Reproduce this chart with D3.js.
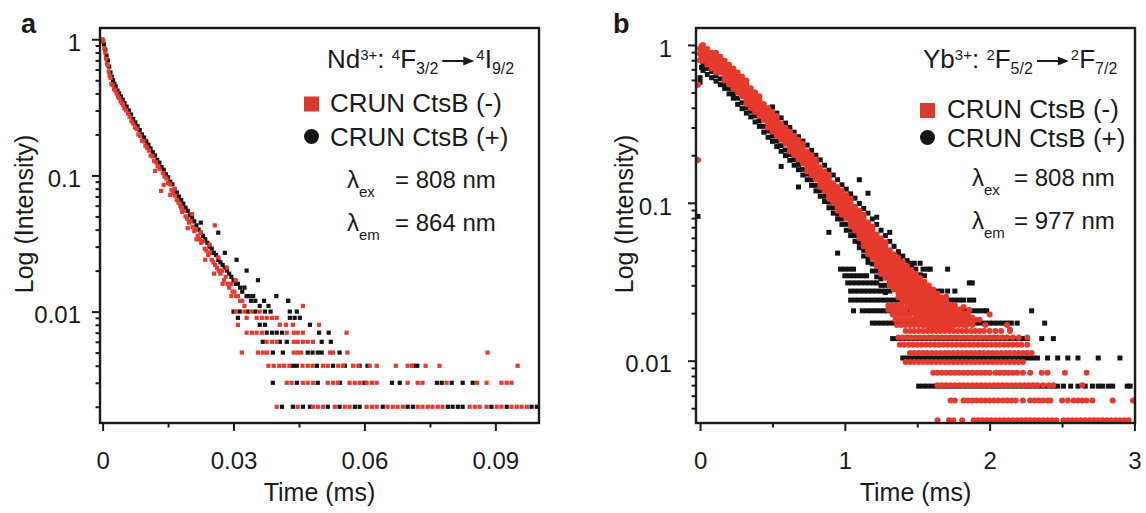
<!DOCTYPE html>
<html>
<head>
<meta charset="utf-8">
<script src="https://cdn.jsdelivr.net/npm/d3@7"></script>
<style>
  body { margin: 0; background: #fff; }
  text { font-family: "Liberation Sans", Arial, sans-serif; fill: #1a1a1a; }
</style>
</head>
<body>
<div id="fig"></div>
<script>
// ---------- panel a : Nd3+ decay, [time ms, intensity] ----------
const ndMinus = [
  [0.0000,1.00],[0.0002,0.97],[0.0004,0.86],[0.0006,0.80],[0.0008,0.72],[0.0010,0.66],[0.0012,0.64],
  [0.0014,0.58],[0.0016,0.54],[0.0018,0.52],[0.0020,0.47],[0.0023,0.46],[0.0026,0.43],[0.0029,0.42],
  [0.0032,0.40],[0.0035,0.38],[0.0038,0.37],[0.0041,0.35],[0.0044,0.34],[0.0047,0.33],[0.0050,0.31],
  [0.0054,0.30],[0.0058,0.285],[0.0062,0.27],[0.0066,0.25],[0.0070,0.24],[0.0074,0.225],[0.0078,0.22],
  [0.0082,0.20],[0.0086,0.195],[0.0090,0.18],[0.0094,0.178],[0.0098,0.165],[0.0102,0.16],[0.0106,0.152],
  [0.0110,0.14],[0.0114,0.138],[0.0118,0.128],[0.0122,0.125],[0.0126,0.117],[0.0130,0.112],[0.0134,0.077],
  [0.0138,0.104],[0.0142,0.098],[0.0146,0.095],[0.0150,0.088],[0.0154,0.086],[0.0158,0.078],[0.0162,0.074],
  [0.0166,0.071],[0.0170,0.066],[0.0174,0.063],[0.0178,0.060],[0.0182,0.054],[0.0186,0.055],[0.0190,0.050],
  [0.0194,0.048],[0.0198,0.045],[0.0202,0.046],[0.0206,0.042],[0.0210,0.039],[0.0214,0.040],[0.0218,0.036],
  [0.0222,0.034],[0.0226,0.032],[0.0230,0.033],[0.0234,0.029],[0.0238,0.028],[0.0242,0.026],[0.0246,0.027],
  [0.0250,0.024],[0.0254,0.023],[0.0258,0.022],[0.0262,0.021],[0.0266,0.020],[0.0270,0.019],[0.0274,0.020],
  [0.0278,0.017],[0.0282,0.018],[0.0286,0.016],[0.0290,0.015],[0.0294,0.016],[0.0298,0.014],[0.0302,0.014],
  [0.0306,0.013],[0.0310,0.013],[0.0315,0.012],[0.0320,0.012],[0.0325,0.011],
  [0.0120,0.108],[0.0140,0.085],[0.0155,0.072],[0.0165,0.080],[0.0180,0.058],[0.0195,0.041],[0.0205,0.052],
  [0.0215,0.034],[0.0225,0.038],[0.0235,0.024],[0.0245,0.031],[0.0255,0.019],[0.0257,0.043],[0.0265,0.025],
  [0.0275,0.016],[0.0285,0.021],[0.0295,0.013],[0.0305,0.017],[0.0459,0.011]
];
const ndPlus = [
  [0.0000,0.97],[0.0003,0.92],[0.0006,0.84],[0.0009,0.76],[0.0012,0.70],[0.0015,0.63],[0.0018,0.57],
  [0.0021,0.53],[0.0024,0.50],[0.0027,0.47],[0.0030,0.45],[0.0034,0.42],[0.0038,0.40],[0.0042,0.38],
  [0.0046,0.36],[0.0050,0.34],[0.0055,0.32],[0.0060,0.30],[0.0065,0.28],[0.0070,0.26],[0.0075,0.245],
  [0.0080,0.23],[0.0085,0.215],[0.0090,0.20],[0.0095,0.19],[0.0100,0.178],[0.0105,0.168],[0.0110,0.158],
  [0.0115,0.148],[0.0120,0.140],[0.0125,0.130],[0.0130,0.124],[0.0135,0.115],[0.0140,0.110],[0.0145,0.102],
  [0.0150,0.097],[0.0155,0.090],[0.0160,0.086],[0.0165,0.079],[0.0170,0.075],[0.0175,0.070],[0.0180,0.066],
  [0.0185,0.062],[0.0190,0.058],[0.0195,0.055],[0.0200,0.051],[0.0205,0.049],[0.0210,0.046],[0.0215,0.043],
  [0.0220,0.040],[0.0225,0.038],[0.0230,0.036],[0.0235,0.034],[0.0240,0.032],[0.0245,0.030],[0.0250,0.029],
  [0.0255,0.027],[0.0260,0.026],[0.0265,0.024],[0.0270,0.023],[0.0275,0.022],[0.0280,0.021],[0.0285,0.020],
  [0.0290,0.019],[0.0295,0.018],[0.0300,0.017],[0.0305,0.016],[0.0310,0.016],[0.0315,0.015],[0.0320,0.014],
  [0.0325,0.015],[0.0330,0.013],[0.0335,0.013],[0.0340,0.012],[0.0345,0.013],[0.0350,0.012],[0.0360,0.011],
  [0.0370,0.012],[0.0380,0.011],
  [0.0225,0.045],[0.0265,0.038],[0.0280,0.027],[0.0307,0.024],[0.0330,0.020],[0.0356,0.017],[0.0398,0.013],
  [0.0425,0.012]
];
// quantised tail: [intensity level, times]
const ndMinusTail = [
  [0.002,[0.0399,0.0447,0.0482,0.0493,0.0505,0.0532,0.0555,0.0566,0.0605,0.0617,0.0628,0.0653,0.0665,0.0676,
          0.0688,0.0722,0.0733,0.0745,0.0756,0.0768,0.0779,0.0841,0.0853,0.0864,0.0880,0.0903,0.0914,0.0937,
          0.0949,0.0960,0.0972]],
  [0.003,[0.0422,0.0433,0.0459,0.0470,0.0482,0.0516,0.0528,0.0539,0.0566,0.0578,0.0589,0.0605,0.0617,0.0628,
          0.0699,0.0722,0.0733,0.0788,0.0858,0.0880,0.0914,0.0926,0.0937]],
  [0.004,[0.0380,0.0392,0.0405,0.0416,0.0428,0.0458,0.0470,0.0481,0.0505,0.0516,0.0540,0.0551,0.0574,0.0586,
          0.0612,0.0628,0.0672,0.0699,0.0709,0.0740,0.0772,0.0951]],
  [0.005,[0.0319,0.0356,0.0367,0.0377,0.0438,0.0447,0.0455,0.0521,0.0528,0.0561,0.0882]],
  [0.006,[0.0376,0.0388,0.0399,0.0438,0.0447,0.0459,0.0470,0.0482]],
  [0.007,[0.0330,0.0342,0.0353,0.0365,0.0422,0.0438,0.0447,0.0459,0.0559]],
  [0.008,[0.0310,0.0406,0.0420,0.0436,0.0496]],
  [0.009,[0.0330,0.0353,0.0365,0.0376,0.0388,0.0399]],
  [0.010,[0.0305,0.0325,0.0340,0.0360]]
];
const ndPlusTail = [
  [0.002,[0.0411,0.0436,0.0459,0.0475,0.0516,0.0543,0.0578,0.0589,0.0642,0.0699,0.0711,0.0791,0.0802,0.0814,
          0.0825,0.0891,0.0926,0.0983,0.0995]],
  [0.003,[0.0390,0.0445,0.0493,0.0544,0.0600,0.0663,0.0681,0.0766,0.0777,0.0800,0.0825,0.0848]],
  [0.004,[0.0436,0.0445,0.0491,0.0528,0.0555,0.0589,0.0607,0.0712,0.0721]],
  [0.005,[0.0390,0.0413,0.0470,0.0481,0.0493,0.0502,0.0543]],
  [0.006,[0.0367,0.0406,0.0422,0.0502,0.0523]],
  [0.007,[0.0376,0.0388,0.0399,0.0411,0.0496,0.0518]],
  [0.008,[0.0360,0.0372,0.0475]],
  [0.009,[0.0310,0.0429,0.0440,0.0452]],
  [0.010,[0.0300,0.0314,0.0333,0.0350,0.0372,0.0385,0.0429,0.0445]],
  [0.012,[0.0425]]
];

// ---------- panel b : Yb3+ decay ----------
// band: [time, intensities read at that time]
const ybMinusBand = [
  [-0.014,0.56,0.187],[0.00,0.80,0.88,0.95],[0.01,0.985,0.92,0.84],
  [0.02,1.00,0.944,0.891,0.841,0.794],
  [0.05,0.944,0.891,0.841,0.794,0.750],
  [0.08,0.891,0.841,0.794,0.750,0.708],
  [0.11,0.891,0.841,0.794,0.750,0.708,0.668],
  [0.14,0.841,0.794,0.750,0.708,0.668],
  [0.17,0.794,0.750,0.708,0.668,0.631,0.596],
  [0.20,0.750,0.708,0.668,0.631,0.596,0.562],
  [0.23,0.708,0.668,0.631,0.596,0.562,0.531],
  [0.26,0.668,0.631,0.596,0.562,0.531,0.501],
  [0.29,0.631,0.596,0.562,0.531,0.501,0.473],
  [0.32,0.596,0.562,0.531,0.501,0.473,0.447,0.422],
  [0.35,0.531,0.501,0.473,0.447,0.422,0.398],
  [0.38,0.501,0.473,0.447,0.422,0.398,0.376],
  [0.41,0.473,0.447,0.422,0.398,0.376,0.355],
  [0.44,0.422,0.398,0.376,0.355,0.335],
  [0.47,0.398,0.376,0.355,0.335,0.316,0.299],
  [0.50,0.376,0.355,0.335,0.316,0.299,0.282],
  [0.53,0.355,0.335,0.316,0.299,0.282,0.266],
  [0.56,0.316,0.299,0.282,0.266,0.251],
  [0.59,0.299,0.282,0.266,0.251,0.237],
  [0.62,0.282,0.266,0.251,0.237,0.224,0.211],
  [0.65,0.266,0.251,0.237,0.224,0.211,0.200],
  [0.68,0.251,0.237,0.224,0.211,0.200,0.188],
  [0.71,0.237,0.224,0.211,0.200,0.188,0.178],
  [0.74,0.211,0.200,0.188,0.178,0.168,0.158],
  [0.77,0.200,0.188,0.178,0.168,0.158,0.150],
  [0.80,0.188,0.178,0.168,0.158,0.150,0.141],
  [0.83,0.168,0.158,0.150,0.141,0.133,0.126],
  [0.86,0.158,0.150,0.141,0.133,0.126,0.119],
  [0.89,0.150,0.141,0.133,0.126,0.119,0.112,0.106],
  [0.92,0.133,0.126,0.119,0.112,0.106,0.100],
  [0.95,0.126,0.119,0.112,0.106,0.100,0.0944,0.0891],
  [0.98,0.119,0.112,0.106,0.100,0.0944,0.0891,0.0841],
  [1.01,0.112,0.106,0.100,0.0944,0.0891,0.0841,0.0794],
  [1.04,0.106,0.100,0.0944,0.0891,0.0841,0.0794,0.0750,0.0708],
  [1.07,0.0944,0.0891,0.0841,0.0794,0.0750,0.0708,0.0668],
  [1.10,0.0891,0.0841,0.0794,0.0750,0.0708,0.0668,0.0631,0.0596],
  [1.13,0.0841,0.0794,0.0750,0.0708,0.0668,0.0631,0.0596,0.0562,0.0531],
  [1.16,0.0750,0.0708,0.0668,0.0631,0.0596,0.0562,0.0531,0.0501,0.0473],
  [1.19,0.0708,0.0668,0.0631,0.0596,0.0562,0.0531,0.0501,0.0473,0.0447],
  [1.22,0.0631,0.0596,0.0562,0.0531,0.0501,0.0473,0.0447,0.0422,0.0398],
  [1.25,0.0596,0.0562,0.0531,0.0501,0.0473,0.0447,0.0422,0.0398,0.0376,0.0355],
  [1.28,0.0562,0.0531,0.0501,0.0473,0.0447,0.0422,0.0398,0.0376,0.0355,0.0335],
  [1.31,0.0501,0.0473,0.0447,0.0422,0.0398,0.0376,0.0355,0.0335,0.0316,0.0299],
  [1.34,0.0473,0.0447,0.0422,0.0398,0.0376,0.0355,0.0335,0.0316,0.0299,0.0282],
  [1.37,0.0447,0.0422,0.0398,0.0376,0.0355,0.0335,0.0316,0.0299,0.0282,0.0266,0.0251],
  [1.40,0.0422,0.0398,0.0376,0.0355,0.0335,0.0316,0.0299,0.0282,0.0266,0.0251,0.0237],
  [1.43,0.0398,0.0376,0.0355,0.0335,0.0316,0.0299,0.0282,0.0266,0.0251,0.0237,0.0224],
  [1.46,0.0376,0.0355,0.0335,0.0316,0.0299,0.0282,0.0266,0.0251,0.0237,0.0224,0.0211,0.0200],
  [1.49,0.0355,0.0335,0.0316,0.0299,0.0282,0.0266,0.0251,0.0237,0.0224,0.0211,0.0200,0.0188],
  [1.52,0.0335,0.0316,0.0299,0.0282,0.0266,0.0251,0.0237,0.0224,0.0211,0.0200,0.0188,0.0178],
  [1.55,0.0316,0.0299,0.0282,0.0266,0.0251,0.0237,0.0224,0.0211,0.0200,0.0188,0.0178,0.0168],
  [1.58,0.0299,0.0282,0.0266,0.0251,0.0237,0.0224,0.0211,0.0200,0.0188,0.0178,0.0168,0.0158],
  [1.61,0.0282,0.0266,0.0251,0.0237,0.0224,0.0211,0.0200,0.0188,0.0178,0.0168,0.0158],
  [1.64,0.0266,0.0251,0.0237,0.0224,0.0211,0.0200,0.0188,0.0178,0.0168,0.0158],
  [1.67,0.0251,0.0237,0.0224,0.0211,0.0200,0.0188,0.0178,0.0168,0.0158],
  [1.70,0.0254,0.0237,0.0224,0.0211,0.0200,0.0188,0.0178,0.0168,0.0158],
  [1.73,0.0224,0.0211,0.0200,0.0188,0.0178,0.0168,0.0158],
  [1.76,0.0224,0.0211,0.0200,0.0188,0.0178,0.0168],
  [1.79,0.0211,0.0200,0.0188,0.0178,0.0168],
  [1.82,0.0219,0.0200,0.0188,0.0178,0.0168],
  [1.85,0.0200,0.0188,0.0178],
  [1.88,0.0188,0.0178],
  [1.93,0.0182],[2.14,0.0157]
];
const ybPlusBand = [
  [-0.014,0.082],[0.00,0.62,0.58],[0.01,0.72],[0.02,0.74,0.69],[0.05,0.71,0.65],[0.08,0.68,0.62],[0.11,0.64,0.59],
  [0.14,0.61,0.56],[0.17,0.57,0.53],[0.20,0.53,0.49],[0.23,0.49,0.46],[0.26,0.46,0.42],[0.29,0.43,0.395],
  [0.32,0.40,0.37],[0.35,0.38,0.35],[0.38,0.355,0.325],[0.41,0.33,0.305],[0.44,0.305,0.28],[0.47,0.285,0.26],
  [0.50,0.405,0.265,0.245],[0.53,0.37,0.246,0.227],[0.56,0.345,0.23,0.212,0.17],[0.59,0.32,0.216,0.199],
  [0.62,0.30,0.202,0.186],[0.65,0.28,0.188,0.173],[0.68,0.262,0.175,0.162,0.126],[0.71,0.246,0.163,0.150],
  [0.74,0.232,0.152,0.140],[0.77,0.215,0.140,0.129],[0.80,0.20,0.129,0.119],[0.83,0.187,0.119,0.110],
  [0.86,0.173,0.110,0.102],[0.89,0.161,0.101,0.093,0.065],[0.92,0.150,0.093,0.086],[0.95,0.140,0.085,0.079,0.048],
  [0.98,0.130,0.079,0.073],[1.01,0.122,0.073,0.067],[1.04,0.114,0.067,0.062],[1.07,0.107,0.062,0.057],
  [1.10,0.140,0.099,0.056,0.052],[1.13,0.092,0.050,0.046],[1.16,0.115,0.086,0.045,0.042],[1.19,0.079,0.041,0.037],
  [1.22,0.081,0.073,0.037,0.034],[1.25,0.067,0.033,0.030],[1.28,0.062,0.030,0.027],[1.31,0.065,0.057],
  [1.34,0.053],[1.37,0.049],[1.38,0.0456,0.0449],[1.40,0.046],[1.43,0.043],[1.45,0.0414],[1.46,0.040],
  [1.48,0.0414],[1.49,0.038],[1.52,0.035,0.0414]
];
// quantised tail rows: [intensity level, times]
const ybMinusRows = [
  [0.0042,[1.64,1.72,1.75,1.81,1.89,1.92,1.95,1.98,2.01,2.04,2.07,2.10,2.13,2.16,2.19,2.22,2.25,2.28,2.31,2.34,
           2.37,2.40,2.43,2.46,2.51,2.54,2.57,2.60,2.63,2.66,2.69,2.72,2.75,2.78,2.81,2.84,2.87,2.90,2.93,2.96]],
  [0.0056,[1.73,1.76,1.82,1.85,1.88,1.91,1.94,1.97,2.00,2.03,2.06,2.09,2.12,2.15,2.18,2.23,2.28,2.31,2.34,2.37,
           2.40,2.42,2.50,2.54,2.58,2.61,2.64,2.67,2.71,2.85,2.99]],
  [0.0070,[1.64,1.67,1.70,1.73,1.76,1.79,1.82,1.85,1.88,1.91,1.94,1.97,2.00,2.03,2.06,2.09,2.12,2.15,2.18,2.21,
           2.24,2.27,2.30,2.33,2.37,2.41,2.44,2.64]],
  [0.0084,[1.61,1.64,1.67,1.70,1.73,1.76,1.79,1.82,1.85,1.88,1.91,1.94,1.97,2.00,2.04,2.07,2.10,2.13,2.16,2.19,
           2.23,2.28,2.36,2.40,2.52,2.67]],
  [0.0098,[1.42,1.45,1.48,1.51,1.54,1.57,1.60,1.63,1.66,1.69,1.72,1.75,1.78,1.81,1.84,1.87,1.90,1.93,1.96,1.99,
           2.02,2.05,2.08,2.11,2.14,2.17,2.20,2.23]],
  [0.0112,[1.45,1.48,1.51,1.54,1.57,1.60,1.63,1.66,1.69,1.72,1.75,1.78,1.81,1.84,1.87,1.90,1.93,1.96,1.99,2.02,
           2.05,2.08,2.11,2.14,2.17,2.20,2.23,2.26,2.29]],
  [0.0126,[1.38,1.41,1.44,1.47,1.50,1.53,1.56,1.59,1.62,1.65,1.68,1.71,1.74,1.77,1.80,1.83,1.86,1.89,1.92,1.95,
           1.98,2.01,2.04,2.07,2.10,2.13,2.16,2.19,2.22,2.26]],
  [0.0140,[1.37,1.40,1.43,1.46,1.49,1.52,1.55,1.58,1.61,1.64,1.67,1.70,1.73,1.76,1.79,1.82,1.85,1.88,1.91,1.94,
           1.97,2.00,2.03,2.06,2.09,2.12,2.16,2.20,2.26]],
  [0.0154,[1.42,1.45,1.48,1.51,1.54,1.57,1.60,1.63,1.66,1.69,1.72,1.75,1.78,1.81,1.84,1.87,1.90,1.93,1.96,2.00,
           2.04,2.08,2.14]],
  [0.0168,[1.36,1.39,1.42,1.45,1.48,1.51,1.54,1.84,1.88,1.97,2.12]],
  [0.0182,[1.35,1.38,1.41,1.44,1.47,1.50,1.90]],
  [0.0196,[1.33,1.36,1.39,1.42,1.45,1.80,2.00]],
  [0.0210,[1.30,1.33,1.36,1.39,1.42,1.86]],
  [0.0224,[1.30,1.33,1.36,1.39]]
];
const ybPlusRows = [
  [0.0069,[1.51,1.54,1.57,1.60,1.63,1.66,1.69,1.72,1.75,1.78,1.81,1.84,1.87,1.90,1.93,1.96,1.99,2.02,2.05,2.08,
           2.11,2.14,2.17,2.20,2.23,2.26,2.29,2.32,2.35,2.38,2.41,2.44,2.47,2.51,2.56,2.61,2.66,2.71,2.75,2.78,
           2.82,2.85,2.95,2.97]],
  [0.0104,[1.40,1.43,1.46,1.49,1.52,1.55,1.58,1.61,1.64,1.67,1.70,1.73,1.76,1.79,1.82,1.85,1.88,1.91,1.94,1.97,
           2.00,2.03,2.06,2.09,2.12,2.15,2.18,2.21,2.24,2.27,2.30,2.33,2.40,2.47,2.54,2.61,2.75,2.90]],
  [0.0138,[1.33,1.36,1.39,1.42,1.45,1.48,1.51,1.54,1.57,1.60,1.63,1.66,1.69,1.72,1.75,1.78,1.81,1.84,1.87,1.90,
           1.93,1.96,1.99,2.02,2.05,2.08,2.11,2.14,2.17,2.20,2.23,2.26,2.36,2.44]],
  [0.0173,[1.19,1.22,1.25,1.28,1.31,1.34,1.37,1.40,1.43,1.46,1.49,1.52,1.55,1.58,1.61,1.64,1.67,1.70,1.73,1.76,
           1.79,1.82,1.85,1.88,1.91,1.94,1.97,2.00,2.03,2.06,2.09,2.12,2.15,2.19,2.38]],
  [0.0207,[1.06,1.12,1.15,1.18,1.21,1.24,1.27,1.30,1.33,1.36,1.39,1.42,1.45,1.48,1.51,1.54,1.57,1.60,1.63,1.66,
           1.69,1.72,1.75,1.78,1.81,1.84,1.87,1.90,1.93,1.96,1.98,2.29]],
  [0.0242,[1.04,1.07,1.10,1.13,1.16,1.19,1.22,1.25,1.28,1.31,1.34,1.37,1.40,1.43,1.46,1.49,1.52,1.55,1.58,1.61,
           1.64,1.67,1.70,1.73,1.76,1.79,1.82,1.86,1.89]],
  [0.0276,[1.04,1.07,1.10,1.13,1.16,1.19,1.22,1.25,1.28,1.31,1.61,1.64,1.67,1.71,1.76]],
  [0.0311,[1.02,1.05,1.08,1.11,1.14,1.17,1.20,1.22,1.86,1.88]],
  [0.0345,[1.00,1.03,1.06,1.09,1.12,1.15,1.45,1.55]],
  [0.0380,[0.97,1.00,1.03,1.06,1.54,1.57,1.59,1.71]]
];

// ---------- axes ----------
const ndXTicks = [0, 0.03, 0.06, 0.09];
const ndXLabels = ["0", "0.03", "0.06", "0.09"];
const ndXMinor = [0.015, 0.045, 0.075];
const ndYMinor = [0.002,0.003,0.004,0.005,0.006,0.007,0.008,0.009,0.02,0.03,0.04,0.05,0.06,0.07,0.08,0.09,
                  0.2,0.3,0.4,0.5,0.6,0.7,0.8,0.9];
const ybXTicks = [0, 1, 2, 3];
const ybXLabels = ["0", "1", "2", "3"];
const ybXMinor = [0.5, 1.5, 2.5];
const ybYMinor = [0.005,0.006,0.007,0.008,0.009,0.02,0.03,0.04,0.05,0.06,0.07,0.08,0.09,
                  0.2,0.3,0.4,0.5,0.6,0.7,0.8,0.9];
const yTicks = [0.01, 0.1, 1];
const yLabels = ["0.01", "0.1", "1"];

const RED = "#e63a2e", BLACK = "#141414", INK = "#1a1a1a";

const svg = d3.select("#fig").append("svg").attr("width", 1146).attr("height", 513);

function bandPoints(rows) {
  const out = [];
  rows.forEach(r => r.slice(1).forEach(v => out.push([r[0], v])));
  return out;
}
function rowPoints(rows) {
  const out = [];
  rows.forEach(([lvl, ts]) => ts.forEach(t => out.push([t, lvl])));
  return out;
}

function drawPanel(cfg) {
  const x = d3.scaleLinear().domain(cfg.xDomain).range([cfg.left, cfg.right]);
  const y = d3.scaleLog().domain(cfg.yDomain).range([cfg.bottom, cfg.top]);
  const g = svg.append("g");

  g.append("clipPath").attr("id", "clip-" + cfg.id)
    .append("rect").attr("x", cfg.left).attr("y", cfg.top)
    .attr("width", cfg.right - cfg.left).attr("height", cfg.bottom - cfg.top);
  const plot = g.append("g").attr("clip-path", "url(#clip-" + cfg.id + ")");

  cfg.series.forEach(s => {
    if (s.shape === "square") {
      plot.append("g").selectAll("rect").data(s.points).enter().append("rect")
        .attr("x", d => x(d[0]) - s.size / 2)
        .attr("y", d => y(d[1]) - s.size / 2)
        .attr("width", s.size).attr("height", s.size)
        .attr("fill", s.color);
    } else {
      plot.append("g").selectAll("circle").data(s.points).enter().append("circle")
        .attr("cx", d => x(d[0])).attr("cy", d => y(d[1]))
        .attr("r", s.size / 2).attr("fill", s.color);
    }
  });

  // axes
  const xa = g.append("g").attr("transform", `translate(0,${cfg.bottom})`).attr("color", INK)
    .call(d3.axisBottom(x).tickValues(cfg.xTicks).tickSize(8).tickPadding(21)
      .tickFormat((d, i) => cfg.xLabels[i]));
  g.append("g").attr("transform", `translate(0,${cfg.bottom})`).attr("color", INK)
    .call(d3.axisBottom(x).tickValues(cfg.xMinor).tickSize(4.5).tickFormat(""));
  const ya = g.append("g").attr("transform", `translate(${cfg.left},0)`).attr("color", INK)
    .call(d3.axisLeft(y).tickValues(yTicks).tickSize(8).tickPadding(cfg.yPad)
      .tickFormat((d, i) => yLabels[i]));
  g.append("g").attr("transform", `translate(${cfg.left},0)`).attr("color", INK)
    .call(d3.axisLeft(y).tickValues(cfg.yMinor).tickSize(4.5).tickFormat(""));
  g.selectAll(".domain").remove();
  g.selectAll(".tick line").attr("stroke-width", 2);
  xa.selectAll("text").attr("font-size", 24).attr("font-family", "Liberation Sans, Arial, sans-serif").attr("fill", INK);
  ya.selectAll("text").attr("font-size", 24).attr("font-family", "Liberation Sans, Arial, sans-serif")
    .attr("fill", INK).attr("dy", "0.47em");

  g.append("rect").attr("x", cfg.left).attr("y", cfg.top)
    .attr("width", cfg.right - cfg.left).attr("height", cfg.bottom - cfg.top)
    .attr("fill", "none").attr("stroke", INK).attr("stroke-width", 2.4);

  // titles
  g.append("text").attr("x", (cfg.left + cfg.right) / 2).attr("y", 501)
    .attr("text-anchor", "middle").attr("font-size", 25).text("Time (ms)");
  g.append("text").attr("transform", `translate(${cfg.yTitleX},214) rotate(-90)`)
    .attr("text-anchor", "middle").attr("font-size", 25).text("Log (Intensity)");
  g.append("text").attr("x", cfg.letterX).attr("y", 33).attr("font-size", 27)
    .attr("font-weight", "bold").text(cfg.letter);

  drawLegend(g, cfg.legend);
}

function levelTspans(t, parts) {
  t.append("tspan").attr("font-size", 15).attr("dy", -8).text(parts[0]);
  t.append("tspan").attr("dy", 8).text(parts[1]);
  t.append("tspan").attr("font-size", 16).attr("dy", 6).text(parts[2]);
}

function drawLegend(g, L) {
  const t1 = g.append("text").attr("x", L.x).attr("y", 68).attr("font-size", 26);
  t1.append("tspan").text(L.ion);
  t1.append("tspan").attr("font-size", 15).attr("dy", -8).text("3+");
  t1.append("tspan").attr("dy", 8).text(": ");
  levelTspans(t1, L.upper);
  const x0 = L.x + t1.node().getComputedTextLength() + 4;
  const x1 = x0 + 32;
  g.append("line").attr("x1", x0).attr("x2", x1 - 8).attr("y1", 61).attr("y2", 61)
    .attr("stroke", INK).attr("stroke-width", 2);
  g.append("path").attr("d", `M${x1},61 L${x1 - 11},56.5 L${x1 - 11},65.5 Z`).attr("fill", INK);
  const t2 = g.append("text").attr("x", x1 + 2).attr("y", 68).attr("font-size", 26);
  levelTspans(t2, L.lower);

  g.append("rect").attr("x", L.markX - 7.5).attr("y", L.sq - 7.5).attr("width", 15).attr("height", 15)
    .attr("fill", "#d83a2e");
  g.append("text").attr("x", L.textX).attr("y", L.sq + 7.5).attr("font-size", 26).text(seriesNames[0]);
  g.append("circle").attr("cx", L.markX).attr("cy", L.circ).attr("r", 7.5).attr("fill", BLACK);
  g.append("text").attr("x", L.textX).attr("y", L.circ + 9).attr("font-size", 26).text(seriesNames[1]);

  [["ex", L.ex, L.exY], ["em", L.em, L.exY + 43]].forEach(([sub, val, yy]) => {
    const t = g.append("text").attr("x", L.lx).attr("y", yy).attr("font-size", 24);
    t.append("tspan").text("λ");
    t.append("tspan").attr("font-size", 15).attr("dy", 9).text(sub);
    t.append("tspan").attr("x", L.lx + L.eq).attr("dy", -9).text("= " + val + " nm");
  });
}

const seriesNames = ["CRUN CtsB (-)", "CRUN CtsB (+)"];

drawPanel({
  id: "a", letter: "a", letterX: 21,
  left: 100, right: 539, top: 28, bottom: 423,
  xDomain: [-0.0006, 0.1], yDomain: [0.00152, 1.21],
  xTicks: ndXTicks, xLabels: ndXLabels, xMinor: ndXMinor, yMinor: ndYMinor,
  yPad: 11, yTitleX: 33,
  series: [
    { points: ndPlus.concat(rowPoints(ndPlusTail)), color: BLACK, shape: "square", size: 4.2 },
    { points: ndMinus.concat(rowPoints(ndMinusTail)), color: RED, shape: "square", size: 4.2 }
  ],
  legend: { x: 327, ion: "Nd", upper: ["4", "F", "3/2"], lower: ["4", "I", "9/2"],
            markX: 311.5, sq: 104, circ: 136.5, textX: 330,
            lx: 347, eq: 48, exY: 188, ex: "808", em: "864" }
});

drawPanel({
  id: "b", letter: "b", letterX: 613,
  left: 696, right: 1135, top: 28, bottom: 423,
  xDomain: [-0.028, 3.004], yDomain: [0.00403, 1.28],
  xTicks: ybXTicks, xLabels: ybXLabels, xMinor: ybXMinor, yMinor: ybYMinor,
  yPad: 16, yTitleX: 633,
  series: [
    { points: bandPoints(ybPlusBand).concat(rowPoints(ybPlusRows)), color: BLACK, shape: "square", size: 5 },
    { points: bandPoints(ybMinusBand).concat(rowPoints(ybMinusRows)), color: RED, shape: "circle", size: 6 }
  ],
  legend: { x: 923, ion: "Yb", upper: ["2", "F", "5/2"], lower: ["2", "F", "7/2"],
            markX: 927.5, sq: 110.5, circ: 137.5, textX: 947,
            lx: 972, eq: 42, exY: 186, ex: "808", em: "977" }
});
</script>
</body>
</html>
